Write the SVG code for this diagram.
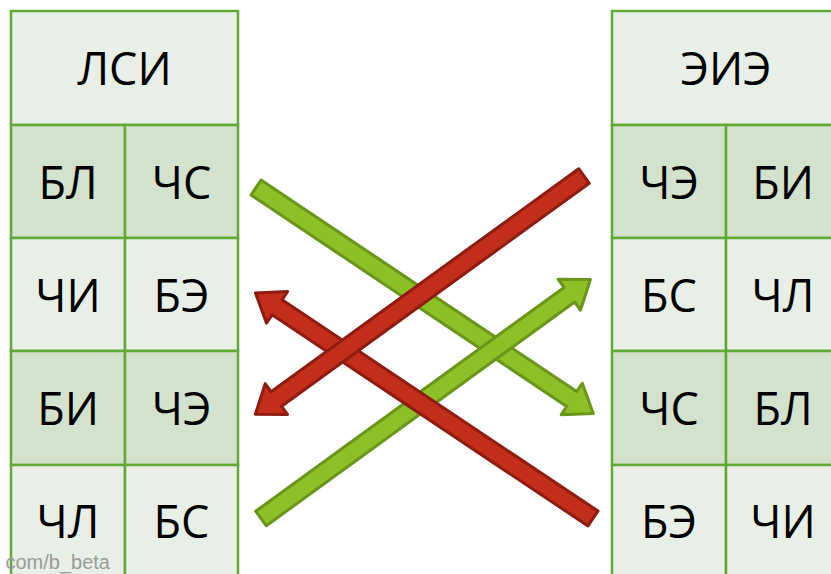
<svg xmlns="http://www.w3.org/2000/svg" width="831" height="574" viewBox="0 0 831 574">
<style>
.hd{fill:#e8efe6;stroke:#62a834;stroke-width:2.5}
.lt{fill:#e8efe6;stroke:#62a834;stroke-width:2.5}
.dk{fill:#d2e2cd;stroke:#62a834;stroke-width:2.5}
.t{font-family:"Open Sans","Noto Sans",sans-serif;font-size:45px;fill:#000;text-anchor:middle}
.g{fill:#8dc026;stroke:#6a9519;stroke-width:3;stroke-linejoin:round}
.r{fill:#c32e1a;stroke:#8e1c11;stroke-width:3;stroke-linejoin:round}
.wm{font-family:"Liberation Sans",sans-serif;font-size:20px;fill:#9a9a9a;text-anchor:end}
</style>
<rect width="831" height="574" fill="#fff"/>
<g id="left-table">
<rect class="hd" x="11" y="11" width="227" height="114"/>
<text class="t" x="124.5" y="85">ЛСИ</text>
<rect class="dk" x="11" y="125" width="114" height="113"/>
<rect class="dk" x="125" y="125" width="113" height="113"/>
<rect class="lt" x="11" y="238" width="114" height="113"/>
<rect class="lt" x="125" y="238" width="113" height="113"/>
<rect class="dk" x="11" y="351" width="114" height="114"/>
<rect class="dk" x="125" y="351" width="113" height="114"/>
<rect class="lt" x="11" y="465" width="114" height="115"/>
<rect class="lt" x="125" y="465" width="113" height="115"/>
<text class="t" x="68" y="198.5">БЛ</text>
<text class="t" x="181.5" y="198.5">ЧС</text>
<text class="t" x="68" y="311.5">ЧИ</text>
<text class="t" x="181.5" y="311.5">БЭ</text>
<text class="t" x="68" y="425">БИ</text>
<text class="t" x="181.5" y="425">ЧЭ</text>
<text class="t" x="68" y="538">ЧЛ</text>
<text class="t" x="181.5" y="538">БС</text>
</g>
<g id="right-table">
<rect class="hd" x="612" y="11" width="228" height="114"/>
<text class="t" x="726" y="85">ЭИЭ</text>
<rect class="dk" x="612" y="125" width="114" height="113"/>
<rect class="dk" x="726" y="125" width="114" height="113"/>
<rect class="lt" x="612" y="238" width="114" height="113"/>
<rect class="lt" x="726" y="238" width="114" height="113"/>
<rect class="dk" x="612" y="351" width="114" height="114"/>
<rect class="dk" x="726" y="351" width="114" height="114"/>
<rect class="lt" x="612" y="465" width="114" height="115"/>
<rect class="lt" x="726" y="465" width="114" height="115"/>
<text class="t" x="669" y="198.5">ЧЭ</text>
<text class="t" x="783" y="198.5">БИ</text>
<text class="t" x="669" y="311.5">БС</text>
<text class="t" x="783" y="311.5">ЧЛ</text>
<text class="t" x="669" y="425">ЧС</text>
<text class="t" x="783" y="425">БЛ</text>
<text class="t" x="669" y="538">БЭ</text>
<text class="t" x="783" y="538">ЧИ</text>
</g>
<g id="connectors">
<path class="g" transform="translate(256,187.5) rotate(33.82)" d="M0,-9 H380 V-19 L406,0 L380,19 V9 H0 Z"/>
<path class="g" transform="translate(261,518.5) rotate(-35.97)" d="M0,-9 H381 V-19 L407,0 L381,19 V9 H0 Z"/>
<path class="r" transform="translate(593,518.5) rotate(213.76)" d="M0,-9 H380 V-19 L406,0 L380,19 V9 H0 Z"/>
<path class="r" transform="translate(584,176) rotate(144.06)" d="M0,-9 H380 V-19 L406,0 L380,19 V9 H0 Z"/>
</g>
<text class="wm" x="110" y="569">com/b_beta</text>
</svg>
